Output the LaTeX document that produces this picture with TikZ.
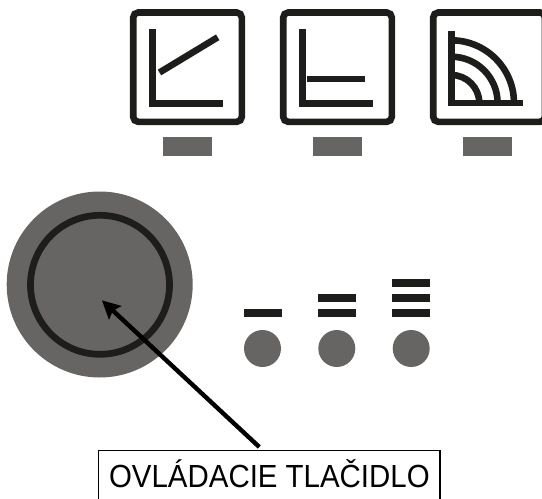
\documentclass[tikz,border=0pt]{standalone}
\usepackage{fontspec}
\setmainfont[FakeStretch=0.92]{Liberation Sans}
\usetikzlibrary{arrows.meta}
\definecolor{knobgray}{RGB}{102,101,99}
\definecolor{iconblack}{RGB}{29,29,27}
\tikzset{
  iconbox/.style={draw=iconblack,line width=6.6pt,rounded corners=5pt},
  iconline/.style={draw=iconblack,line width=6.6pt},
  iconbar/.style={fill=knobgray},
  levelbar/.style={fill=iconblack},
  leveldot/.style={circle,fill=knobgray,minimum size=37pt,inner sep=0pt}
}
\begin{document}
\begin{tikzpicture}[x=1pt,y=-1pt]
  \useasboundingbox (0,0) rectangle (542,499);
  % icons
  \draw[iconbox] (133.2,12.5) rectangle (241.8,121.8);
  \draw[iconbox] (283.2,12.5) rectangle (391.8,121.8);
  \draw[iconbox] (433.2,12.5) rectangle (545,121.8);
  \fill[iconbar] (163,137) rectangle (211.7,156);
  \fill[iconbar] (313,137) rectangle (361.7,156);
  \fill[iconbar] (463,137) rectangle (511.7,156);
  % first icon
  \draw[iconline] (152.5,29) -- (152.5,103.5) -- (223.3,103.5);
  \draw[iconline] (159.5,72.5) -- (217.7,37.3);
  % second icon
  \draw[iconline] (302.5,29) -- (302.5,103.5) -- (373,103.5);
  \draw[iconline] (306.7,79) -- (365.3,79);
  % third icon
  \draw[iconline] (451.3,31) -- (451.3,103) -- (522.7,103);
  \draw[iconline] (451.3,75) arc[start angle=-90,end angle=0,radius=28];
  \draw[iconline] (451.3,56.7) arc[start angle=-90,end angle=0,radius=46.3];
  \draw[iconline] (451.3,40.3) arc[start angle=-90,end angle=0,radius=62.7];
  % knob
  \node[circle,fill=knobgray,minimum size=186pt,inner sep=0pt] (knob) at (99.7,284.5) {};
  \node[circle,draw=iconblack,line width=6.7pt,minimum size=139pt,inner sep=0pt] (ring) at (100,284.8) {};
  % levels
  \node[leveldot] (dotA) at (262.5,348.5) {};
  \node[leveldot] (dotB) at (336.8,348.5) {};
  \node[leveldot] (dotC) at (411.2,348.5) {};
  \fill[levelbar] (244,309) rectangle (282,317);
  \fill[levelbar] (318,309) rectangle (356,317);
  \fill[levelbar] (318,294) rectangle (356,302);
  \fill[levelbar] (392,309) rectangle (430,317);
  \fill[levelbar] (392,294) rectangle (430,302);
  \fill[levelbar] (392,279) rectangle (430,287);
  % label
  \node[draw=black,line width=1.5pt,minimum width=341.5pt,text height=37.2pt,text depth=23pt,inner sep=0pt,anchor=north,font=\fontsize{32}{36}\selectfont] (label) at (269.4,449.5) {OVLÁDACIE TLAČIDLO};
  \coordinate (tip) at (102.3,300.7);
  \coordinate (tail) at (259.3,447);
  \draw[-{Stealth[length=18pt,width=18pt,inset=3pt]},line width=4.4pt,shorten >=-0.5pt] (tail) -- (tip);
\end{tikzpicture}
\end{document}
